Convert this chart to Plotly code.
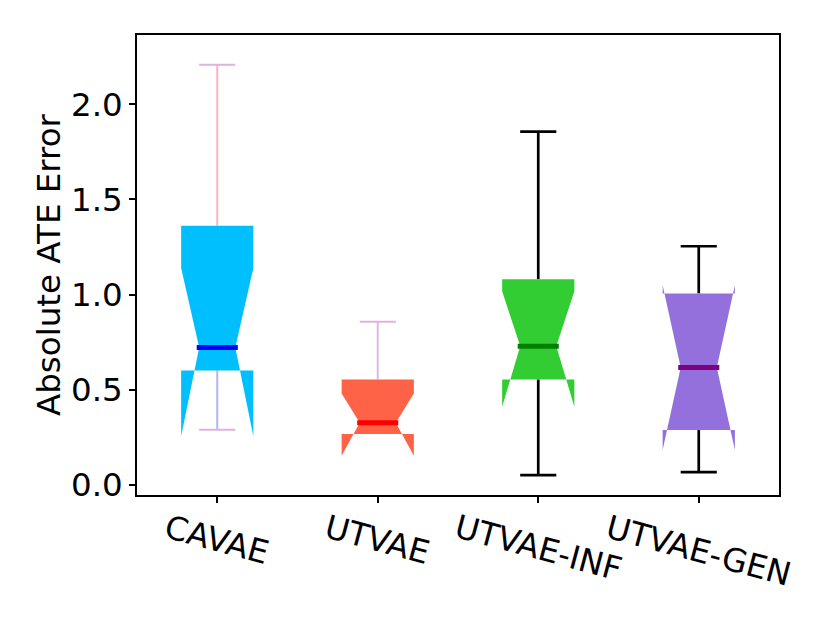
import plotly.graph_objects as go

# ---- data ----
categories = ["CAVAE", "UTVAE", "UTVAE-INF", "UTVAE-GEN"]
positions = [1, 2, 3, 4]
whisker_low = [0.290, 0.268, 0.052, 0.068]
q1_vals = [0.602, 0.268, 0.555, 0.289]
notch_low = [0.257, 0.154, 0.411, 0.184]
medians = [0.722, 0.327, 0.729, 0.617]
notch_high = [1.140, 0.481, 1.018, 1.049]
q3_vals = [1.362, 0.554, 1.081, 1.006]
whisker_high = [2.207, 0.857, 1.856, 1.254]
y_ticks = [0.0, 0.5, 1.0, 1.5, 2.0]

# ---- styles ----
box_colors = ["#00BFFF", "#FF6347", "#32CD32", "#9370DB"]
median_colors = ["#0000FF", "#FF0000", "#008000", "#800080"]
upper_whisker_colors = ["#FFB3BA", "#DDB8E6", "#000000", "#000000"]
lower_whisker_colors = ["#B3B3FF", "#DDB8E6", "#000000", "#000000"]
cap_colors = ["#DDB3DD", "#DDB3DD", "#000000", "#000000"]
whisker_widths = [2, 2, 2.7, 2.7]
HALF_W = 0.225      # half box width
NOTCH_W = 0.1125    # half width at median
CAP_W = 0.1125      # half cap width
MED_W = 0.128       # half median line width (incl. projecting cap)
FONT = "DejaVu Sans, Verdana, sans-serif"
FS = 32.5

fig = go.Figure()

# whiskers and caps (drawn first, beneath the boxes)
for i, c in enumerate(positions):
    if whisker_low[i] < q1_vals[i]:
        fig.add_trace(go.Scatter(x=[c, c], y=[q1_vals[i], whisker_low[i]], mode="lines",
                                 line=dict(color=lower_whisker_colors[i], width=whisker_widths[i]),
                                 hoverinfo="skip", showlegend=False))
        fig.add_trace(go.Scatter(x=[c - CAP_W, c + CAP_W], y=[whisker_low[i]] * 2, mode="lines",
                                 line=dict(color=cap_colors[i], width=whisker_widths[i]),
                                 hoverinfo="skip", showlegend=False))
    fig.add_trace(go.Scatter(x=[c, c], y=[q3_vals[i], whisker_high[i]], mode="lines",
                             line=dict(color=upper_whisker_colors[i], width=whisker_widths[i]),
                             hoverinfo="skip", showlegend=False))
    fig.add_trace(go.Scatter(x=[c - CAP_W, c + CAP_W], y=[whisker_high[i]] * 2, mode="lines",
                             line=dict(color=cap_colors[i], width=whisker_widths[i]),
                             hoverinfo="skip", showlegend=False))

# notched boxes
for i, c in enumerate(positions):
    xs = [c - HALF_W, c - HALF_W, c - NOTCH_W, c - HALF_W, c - HALF_W,
          c + HALF_W, c + HALF_W, c + NOTCH_W, c + HALF_W, c + HALF_W, c - HALF_W]
    ys = [q1_vals[i], notch_low[i], medians[i], notch_high[i], q3_vals[i],
          q3_vals[i], notch_high[i], medians[i], notch_low[i], q1_vals[i], q1_vals[i]]
    fig.add_trace(go.Scatter(x=xs, y=ys, mode="lines", fill="toself",
                             fillcolor=box_colors[i], line=dict(width=0, color=box_colors[i]),
                             hoverinfo="skip", showlegend=False))

# medians
for i, c in enumerate(positions):
    fig.add_trace(go.Scatter(x=[c - MED_W, c + MED_W], y=[medians[i]] * 2, mode="lines",
                             line=dict(color=median_colors[i], width=5),
                             hoverinfo="skip", showlegend=False))

# rotated category labels
for i, c in enumerate(positions):
    fig.add_annotation(x=c, xref="x", y=-0.022, yref="paper", text=categories[i],
                       showarrow=False, textangle=15, xanchor="center", yanchor="top",
                       font=dict(family=FONT, size=FS, color="black"))

# y-axis title
fig.add_annotation(x=-0.137, xref="paper", y=0.5, yref="paper", text="Absolute ATE Error",
                   showarrow=False, textangle=-90, xanchor="center", yanchor="middle",
                   font=dict(family=FONT, size=FS, color="black"))

fig.update_layout(
    width=830, height=623,
    margin=dict(l=129, r=59, t=27, b=136),
    paper_bgcolor="white", plot_bgcolor="white",
    font=dict(family=FONT, size=FS, color="black"),
    xaxis=dict(range=[0.5, 4.5], tickmode="array", tickvals=positions, ticktext=categories,
               showticklabels=False, ticks="outside", ticklen=6, tickwidth=1.5, tickcolor="black",
               showgrid=False, zeroline=False, showline=True, linecolor="black", linewidth=1.5,
               mirror=True),
    yaxis=dict(range=[-0.052, 2.363], tickmode="array", tickvals=y_ticks,
               ticktext=[f"{v:.1f}" for v in y_ticks],
               ticks="outside", ticklen=6, tickwidth=1.5, tickcolor="black",
               showgrid=False, zeroline=False, showline=True, linecolor="black", linewidth=1.5,
               mirror=True, tickfont=dict(family=FONT, size=FS, color="black")),
)

fig.write_html("out.html")
